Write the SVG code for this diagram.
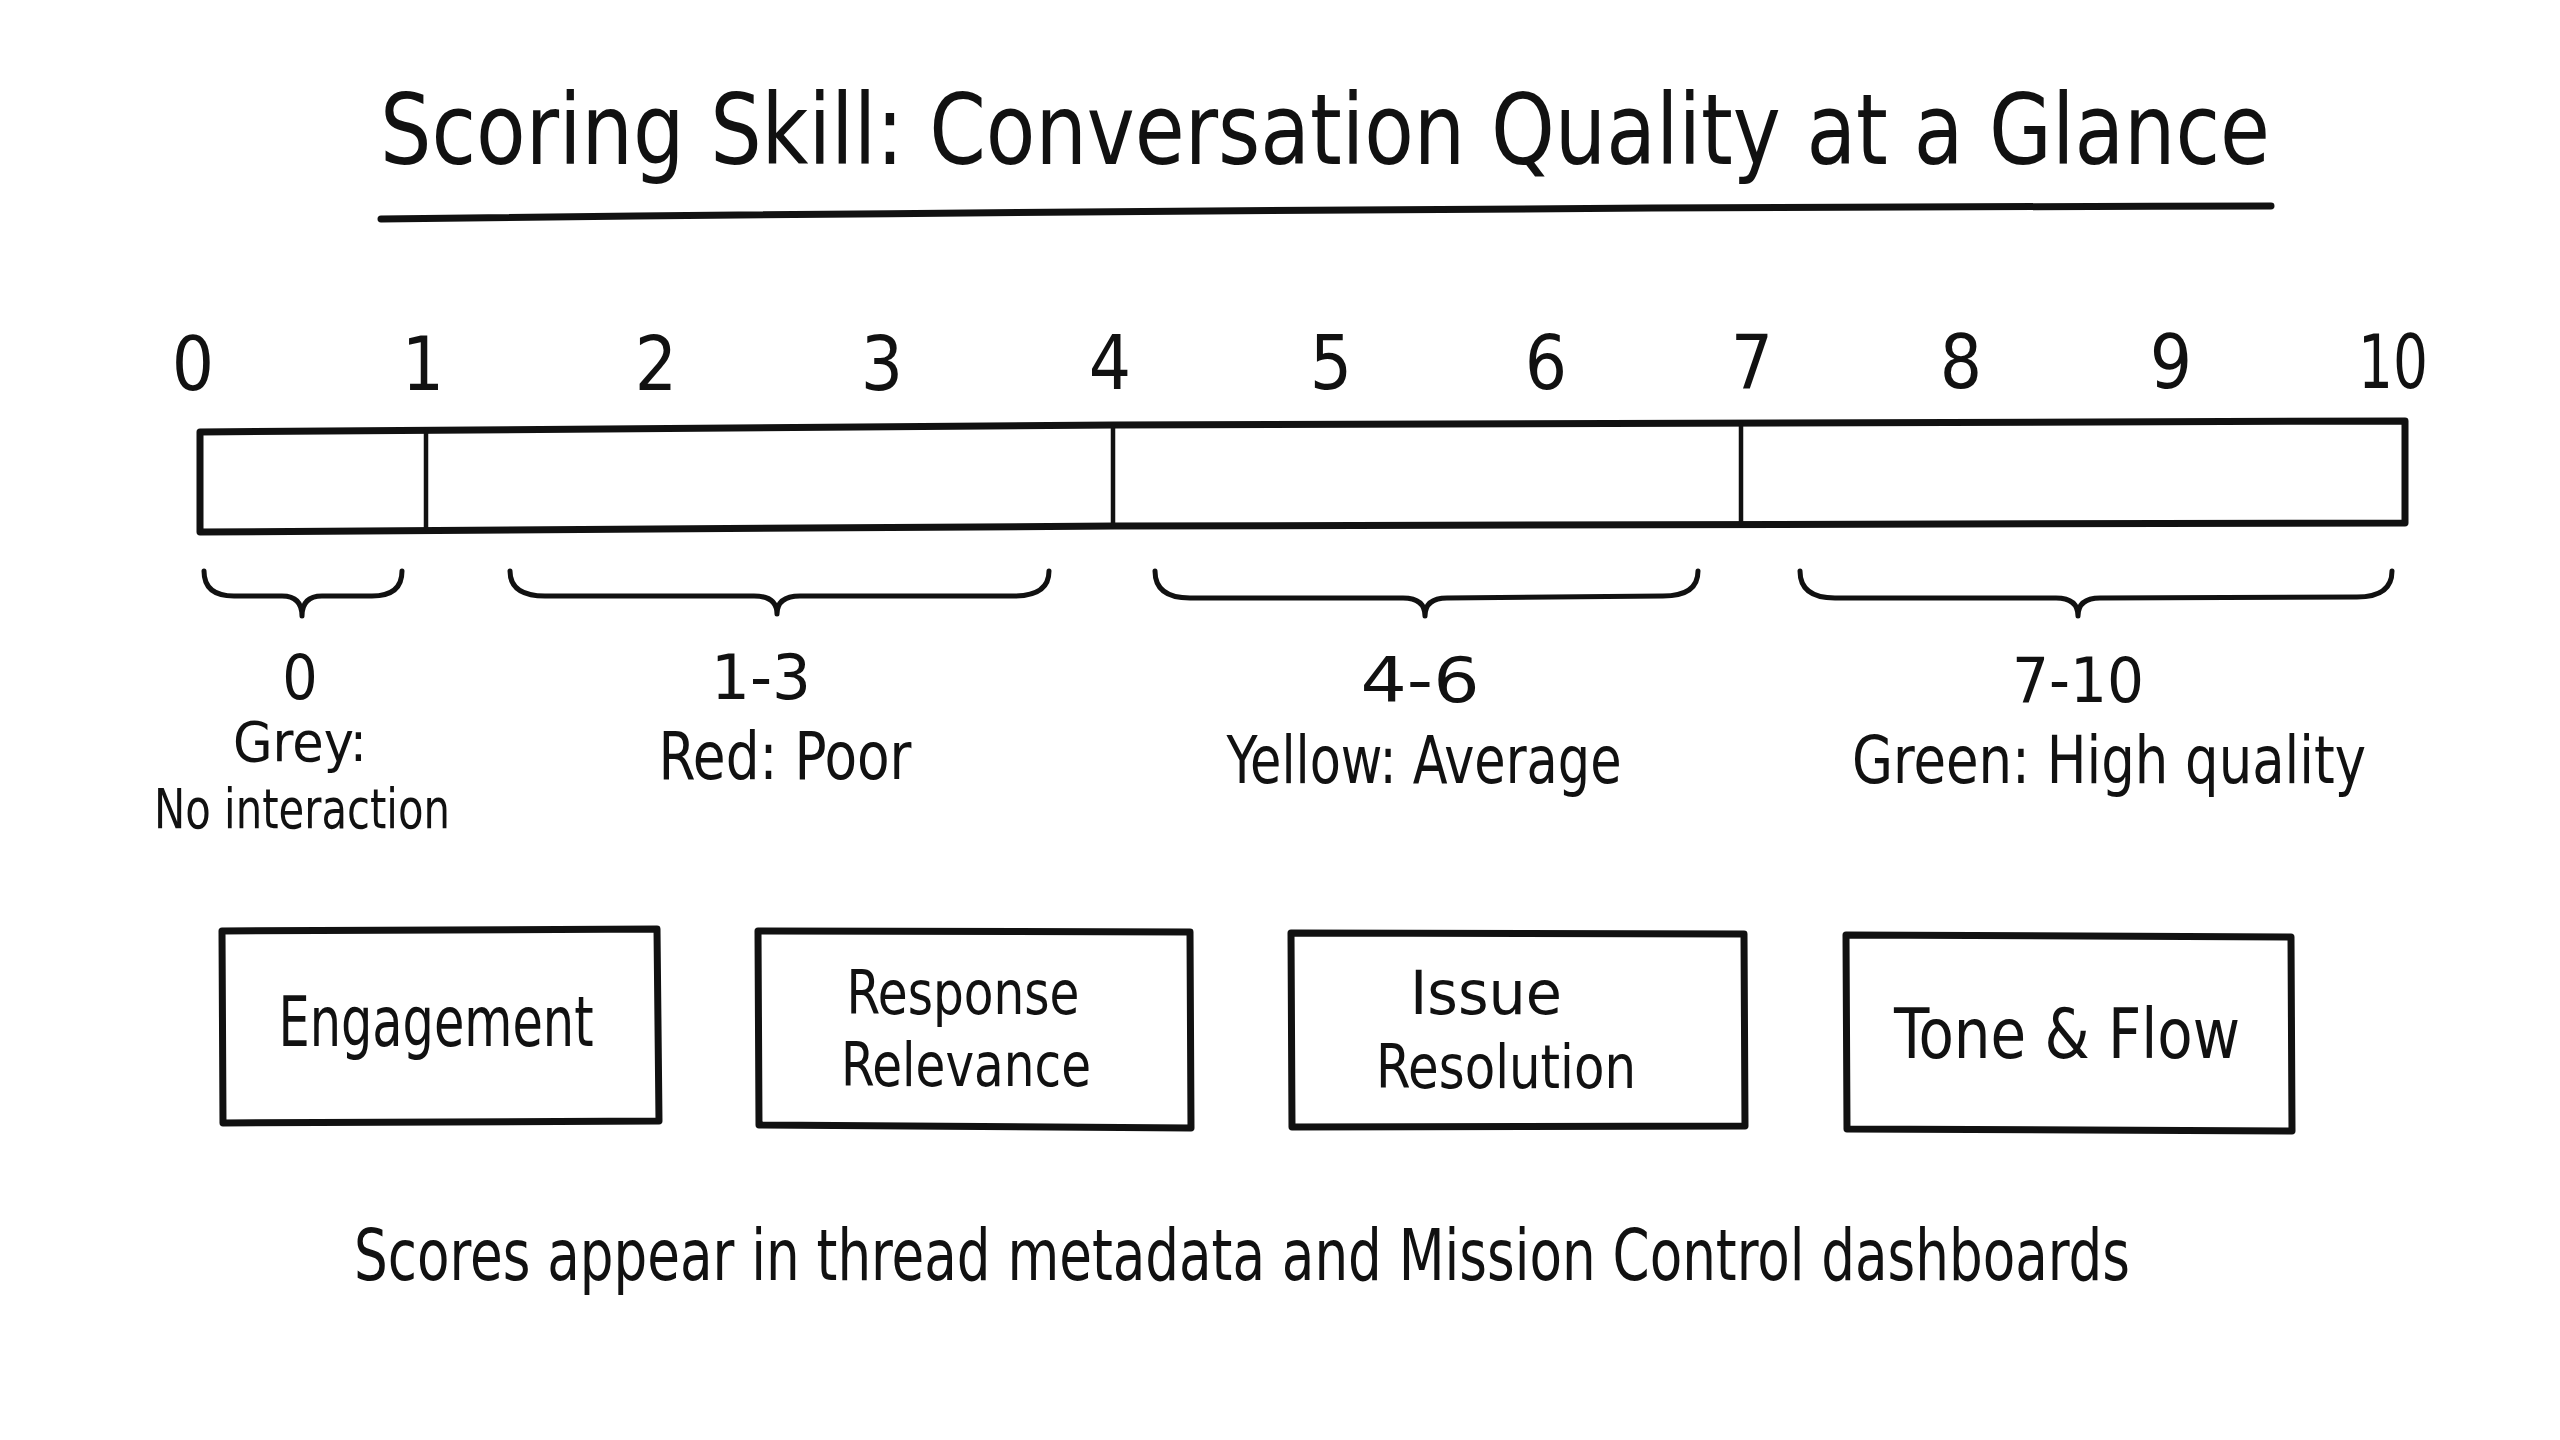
<svg xmlns="http://www.w3.org/2000/svg" width="2560" height="1440" viewBox="0 0 2560 1440">
<style>
text{font-family:"Liberation Sans Narrow","DejaVu Sans Condensed","Liberation Sans",sans-serif;fill:#111;text-anchor:middle}
.title{font-size:98px}
.num{font-size:74px}
.rng{font-size:62px}
.lbl{font-size:66px}
.sm{font-size:56px}
.box{font-size:70px}
.box2{font-size:61px}
.foot{font-size:72px}
.ln{fill:none;stroke:#111;stroke-linecap:round;stroke-linejoin:round}
.shape{fill:#fff;stroke:#111;stroke-linecap:round;stroke-linejoin:round}
</style>
<rect width="2560" height="1440" fill="#fff"/>
<g id="title">
<text class="title" x="1325" y="164" textLength="1890" lengthAdjust="spacingAndGlyphs">Scoring Skill: Conversation Quality at a Glance</text>
<path class="ln" d="M381 219 Q1300 208 2271 206" stroke-width="7"/>
</g>
<g id="scale-numbers">
<text class="num" x="193" y="390">0</text>
<text class="num" x="423" y="390">1</text>
<text class="num" x="656" y="390">2</text>
<text class="num" x="882" y="390">3</text>
<text class="num" x="1110" y="389">4</text>
<text class="num" x="1331" y="389">5</text>
<text class="num" x="1546" y="389">6</text>
<text class="num" x="1752" y="388">7</text>
<text class="num" x="1961" y="388">8</text>
<text class="num" x="2171" y="388">9</text>
<text class="num" x="2393" y="388" textLength="70" lengthAdjust="spacingAndGlyphs">10</text>
</g>
<g id="scale-bar">
<path class="shape" d="M200 432 L1114 425 L2405 421 L2405 523 L1114 526 L200 532 Z" stroke-width="7"/>
<path class="ln" d="M426 430 L426 529" stroke-width="4.5"/>
<path class="ln" d="M1113 425 L1113 526" stroke-width="4.5"/>
<path class="ln" d="M1741 423 L1741 524" stroke-width="4.5"/>
</g>
<g id="braces">
<path class="ln" stroke-width="5" d="M204 571 Q204 596 234 596 L282 596 Q302 596 302 616 Q302 596 322 596 L372 596 Q402 596 402 571"/>
<path class="ln" stroke-width="5" d="M510 571 Q510 596 545 596 L754 596 Q777 596 777 614 Q777 596 800 596 L1014 596 Q1049 596 1049 571"/>
<path class="ln" stroke-width="5" d="M1155 571 Q1155 598 1190 598 L1403 598 Q1425 598 1425 616 Q1425 598 1447 598 L1663 596 Q1698 596 1698 571"/>
<path class="ln" stroke-width="5" d="M1800 571 Q1800 598 1835 598 L2056 598 Q2078 598 2078 616 Q2078 598 2100 598 L2357 597 Q2392 597 2392 571"/>
</g>
<g id="range-0">
<text class="rng" x="300" y="699">0</text>
<text class="sm" x="300" y="761" textLength="134" lengthAdjust="spacingAndGlyphs">Grey:</text>
<text class="sm" x="302" y="828" textLength="296" lengthAdjust="spacingAndGlyphs">No interaction</text>
</g>
<g id="range-1-3">
<text class="rng" x="761" y="699" textLength="100" lengthAdjust="spacingAndGlyphs">1-3</text>
<text class="lbl" x="785" y="779" textLength="253" lengthAdjust="spacingAndGlyphs">Red: Poor</text>
</g>
<g id="range-4-6">
<text class="rng" x="1420" y="702" textLength="119" lengthAdjust="spacingAndGlyphs">4-6</text>
<text class="lbl" x="1424" y="783" textLength="395" lengthAdjust="spacingAndGlyphs">Yellow: Average</text>
</g>
<g id="range-7-10">
<text class="rng" x="2078" y="702" textLength="132" lengthAdjust="spacingAndGlyphs">7-10</text>
<text class="lbl" x="2109" y="783" textLength="514" lengthAdjust="spacingAndGlyphs">Green: High quality</text>
</g>
<g id="engagement">
<path class="shape" d="M222 931 L657 929 L659 1121 L223 1123 Z" stroke-width="7"/>
<text class="box" x="436" y="1046" textLength="315" lengthAdjust="spacingAndGlyphs">Engagement</text>
</g>
<g id="response-relevance">
<path class="shape" d="M758 931 L1190 932 L1191 1128 L759 1125 Z" stroke-width="7"/>
<text class="box2" x="963" y="1014" textLength="233" lengthAdjust="spacingAndGlyphs">Response</text>
<text class="box2" x="966" y="1086" textLength="250" lengthAdjust="spacingAndGlyphs">Relevance</text>
</g>
<g id="issue-resolution">
<path class="shape" d="M1291 933 L1744 934 L1745 1126 L1292 1127 Z" stroke-width="7"/>
<text class="box2" x="1486" y="1014" textLength="152" lengthAdjust="spacingAndGlyphs">Issue</text>
<text class="box2" x="1506" y="1088" textLength="260" lengthAdjust="spacingAndGlyphs">Resolution</text>
</g>
<g id="tone-flow">
<path class="shape" d="M1846 935 L2291 937 L2292 1131 L1847 1129 Z" stroke-width="7"/>
<text class="box" x="2067" y="1058" textLength="346" lengthAdjust="spacingAndGlyphs">Tone &amp; Flow</text>
</g>
<g id="footer">
<text class="foot" x="1242" y="1280" textLength="1776" lengthAdjust="spacingAndGlyphs">Scores appear in thread metadata and Mission Control dashboards</text>
</g>
</svg>
